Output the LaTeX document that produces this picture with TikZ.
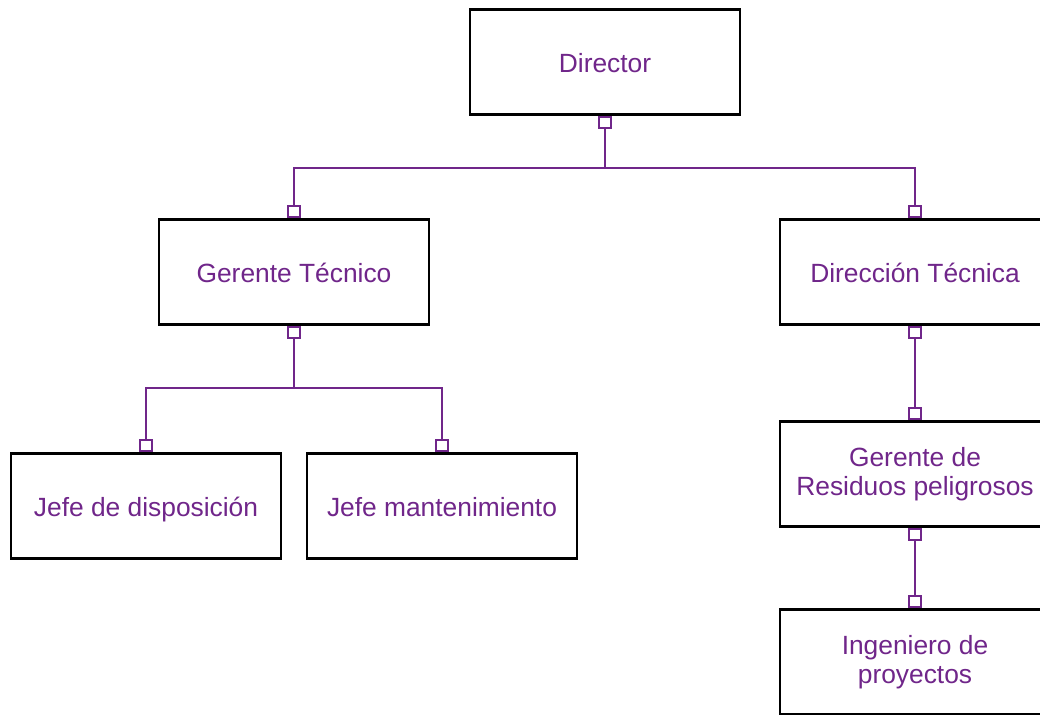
\documentclass[tikz,border=0pt]{standalone}
\usepackage{fontspec}
\setmainfont{Liberation Sans}
\usetikzlibrary{arrows.meta}
\definecolor{morado}{RGB}{112,38,138}
\tikzset{
  base/.style={draw=black,line width=1.5pt,fill=white,minimum width=5.4cm,minimum height=2.1cm,
    text=morado,font=\fontsize{15}{16.5}\selectfont},
  caja/.style={base,text height=15pt,text depth=3pt},
  caja2/.style={base,align=center},
  enlace/.style={draw=morado,line width=1.3pt,
    {Square[fill=white,length=7.5pt,width=7.5pt,line width=1.1pt]}-{Square[fill=white,length=7.5pt,width=7.5pt,line width=1.1pt]}}
}
\begin{document}
\begin{tikzpicture}[x=0.02cm,y=-0.02cm]
  \useasboundingbox (0,0) rectangle (1040,715);
  \clip (0,0) rectangle (1040,715);
  \node[caja] (dir) at (605,62) {Director};
  \node[caja] (gt) at (294,272) {Gerente Técnico};
  \node[caja] (dt) at (915,272) {Dirección Técnica};
  \node[caja] (jd) at (146,506) {Jefe de disposición};
  \node[caja] (jm) at (442,506) {Jefe mantenimiento};
  \node[caja2] (grp) at (915,474) {Gerente de\\Residuos peligrosos};
  \node[caja2] (ip) at (915,662) {Ingeniero de\\proyectos};
  \draw[enlace] (dir.south) -- ++(0,52) -| (gt.north);
  \draw[enlace] (dir.south) -- ++(0,52) -| (dt.north);
  \draw[enlace] (gt.south) -- ++(0,62) -| (jd.north);
  \draw[enlace] (gt.south) -- ++(0,62) -| (jm.north);
  \draw[enlace] (dt.south) -- (grp.north);
  \draw[enlace] (grp.south) -- (ip.north);
\end{tikzpicture}
\end{document}
